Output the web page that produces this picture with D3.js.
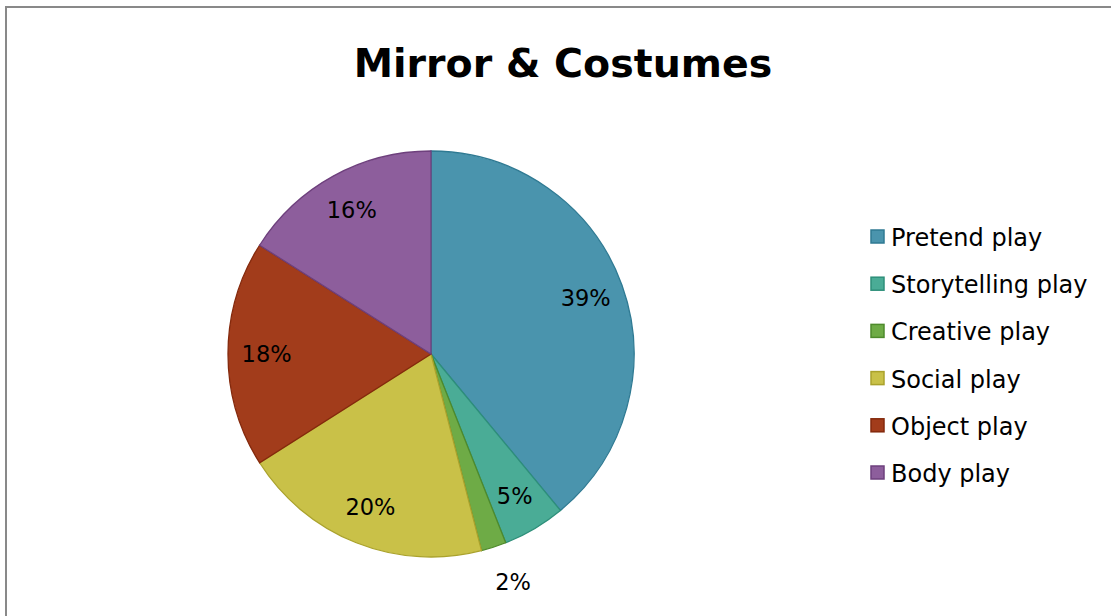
<!DOCTYPE html>
<html><head><meta charset="utf-8">
<script src="https://cdn.jsdelivr.net/npm/d3@7"></script>
<style>body{margin:0;background:#fff}svg{display:block}</style>
</head><body>
<svg id="c" width="1111" height="616"></svg>
<script>
const title = "Mirror & Costumes";
const categories = ["Pretend play","Storytelling play","Creative play","Social play","Object play","Body play"];
const values = [39,5,2,20,18,16];
const fills = ["#4a94ad","#4aac96","#6eab46","#c9c148","#a23c1b","#8d5e9c"];
const strokes = ["#2f7a93","#2e8f7a","#4e8a2c","#aaa22c","#84290c","#6e407d"];

const svg = d3.select("#c");
const font = "'DejaVu Sans', sans-serif";

svg.append("rect").attr("x",6).attr("y",7).attr("width",1300).attr("height",800)
  .attr("fill","#fff").attr("stroke","#898989").attr("stroke-width",2);

svg.append("text").attr("x",563).attr("y",77).attr("text-anchor","middle")
  .attr("font-family",font).attr("font-weight","bold").attr("font-size",39.5)
  .attr("fill","#000").text(title);

const cx = 431, cy = 354, r = 203;
const pie = d3.pie().sort(null).value(d=>d)(values);
const arc = d3.arc().innerRadius(0).outerRadius(r);
const g = svg.append("g").attr("transform",`translate(${cx},${cy})`);
g.selectAll("path").data(pie).join("path")
  .attr("d",arc).attr("fill",(d,i)=>fills[i]).attr("stroke",(d,i)=>strokes[i]).attr("stroke-width",1.3);

const inArc = d3.arc().innerRadius(r*0.81).outerRadius(r*0.81);
const outArc = d3.arc().innerRadius(r*1.18).outerRadius(r*1.18);
g.selectAll("text.lbl").data(pie).join("text").attr("class","lbl")
  .attr("transform",d=>{const c=(d.data<3?outArc:inArc).centroid(d);return `translate(${c[0]+(d.data<3?8:0)},${c[1]+8})`;})
  .attr("text-anchor","middle").attr("font-family",font).attr("font-size",22.5).attr("fill","#000")
  .text(d=>d.data+"%");

const ly = d3.scalePoint().domain(categories).range([237,473]);
const lg = svg.append("g");
categories.forEach((c,i)=>{
  lg.append("rect").attr("x",871).attr("y",ly(c)-7).attr("width",13).attr("height",13)
    .attr("fill",fills[i]).attr("stroke",strokes[i]).attr("stroke-width",1.5);
  lg.append("text").attr("x",891).attr("y",ly(c)+9).attr("font-family",font).attr("font-size",24)
    .attr("fill","#000").text(c);
});
</script>
</body></html>
